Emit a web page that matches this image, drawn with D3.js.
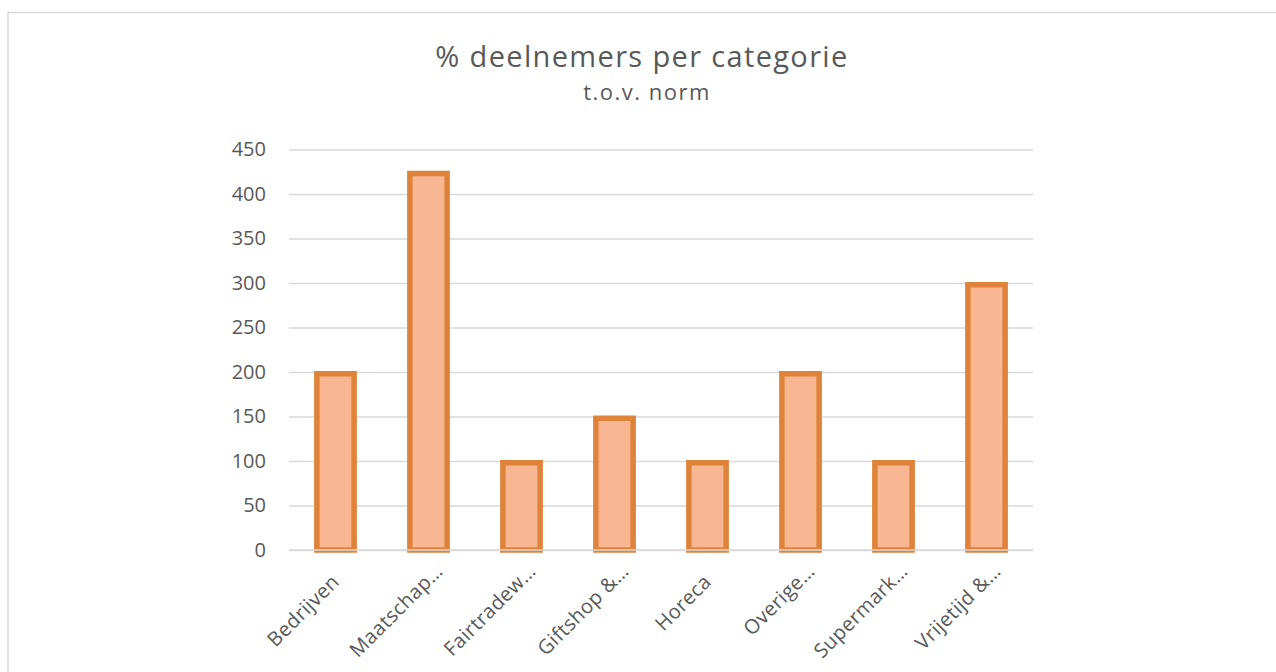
<!DOCTYPE html>
<html lang="nl">
<head>
  <meta charset="UTF-8">
  <title>% deelnemers per categorie</title>
  <style type="text/css" media="all">
    html, body {
      margin: 0;
      padding: 0;
      background: #fff;
    }
    svg {
      display: block;
      font-family: "Open Sans", sans-serif;
    }
  </style>
</head>
<body>

  <div id="graph"></div>
  <script src="https://d3js.org/d3.v7.min.js" charset="utf-8"></script>
  <script>
    var categories = ['Bedrijven', 'Maatschap…', 'Fairtradew…', 'Giftshop &…',
                      'Horeca', 'Overige…', 'Supermark…', 'Vrijetijd &…'];
    var values = [200, 425, 100, 150, 100, 200, 100, 300];
    var yTicks = [0, 50, 100, 150, 200, 250, 300, 350, 400, 450];

    var width = 1276,
        height = 672;

    var plot = {
      left: 289,
      right: 1033,
      top: 149.5,
      bottom: 550
    };

    var svg = d3.select('#graph')
      .append('svg')
      .attr('width', width)
      .attr('height', height);

    // chart frame, cut off at right and bottom like the screenshot
    svg.append('rect')
      .attr('x', 8)
      .attr('y', 12.5)
      .attr('width', 1300)
      .attr('height', 700)
      .attr('fill', 'none')
      .attr('stroke', '#d9d9d9')
      .attr('stroke-width', 1.5);

    var x = d3.scaleBand()
      .domain(categories)
      .range([plot.left, plot.right])
      .paddingInner(0.54)
      .paddingOuter(0.27);

    var y = d3.scaleLinear()
      .domain([0, 450])
      .range([plot.bottom, plot.top]);

    // titles
    svg.append('text')
      .attr('x', 642)
      .attr('y', 67)
      .attr('text-anchor', 'middle')
      .attr('fill', '#595959')
      .style('font-size', '29px')
      .style('letter-spacing', '1.35px')
      .text('% deelnemers per categorie');

    svg.append('text')
      .attr('x', 647)
      .attr('y', 100)
      .attr('text-anchor', 'middle')
      .attr('fill', '#595959')
      .style('font-size', '22px')
      .style('letter-spacing', '1.5px')
      .text('t.o.v. norm');

    // gridlines + y labels
    var yAxis = d3.axisLeft(y)
      .tickValues(yTicks)
      .tickSize(-(plot.right - plot.left))
      .tickPadding(23);

    var gy = svg.append('g')
      .attr('transform', 'translate(' + plot.left + ',0)')
      .call(yAxis);

    gy.select('.domain').remove();
    gy.selectAll('.tick line')
      .attr('stroke', '#d9d9d9')
      .attr('stroke-width', 1.5);
    gy.selectAll('.tick text')
      .attr('fill', '#595959')
      .style('font-size', '20px')
      .style('font-family', '"Open Sans", sans-serif');

    // bars
    var sw = 5.5;
    svg.append('g')
      .selectAll('rect')
      .data(values)
      .enter()
      .append('rect')
      .attr('x', function(d, i) { return x(categories[i]) + sw / 2; })
      .attr('y', function(d) { return y(d) + sw / 2 - 1; })
      .attr('width', x.bandwidth() - sw)
      .attr('height', function(d) { return y(0) - y(d) - sw / 2 + 1; })
      .attr('fill', '#f8b692')
      .attr('stroke', '#df833a')
      .attr('stroke-width', sw);

    // baseline over the bar bottoms
    svg.append('line')
      .attr('x1', plot.left)
      .attr('x2', plot.right)
      .attr('y1', y(0))
      .attr('y2', y(0))
      .attr('stroke', '#d9d9d9')
      .attr('stroke-width', 1.5);

    // category labels
    var xAxis = d3.axisBottom(x)
      .tickSize(0)
      .tickPadding(0);

    var gx = svg.append('g')
      .attr('transform', 'translate(0,' + y(0) + ')')
      .call(xAxis);

    gx.select('.domain').remove();
    gx.selectAll('.tick text')
      .attr('fill', '#595959')
      .style('font-size', '20px')
      .style('letter-spacing', '0.4px')
      .style('font-family', '"Open Sans", sans-serif')
      .attr('text-anchor', 'end')
      .attr('dy', null)
      .attr('y', 0)
      // truncated labels sit a bit further along the slant
      .attr('dx', function(d) { return d.slice(-1) === '…' ? 15 : 0; })
      .attr('transform', 'translate(5,33) rotate(-45)');
  </script>
</body>
</html>
